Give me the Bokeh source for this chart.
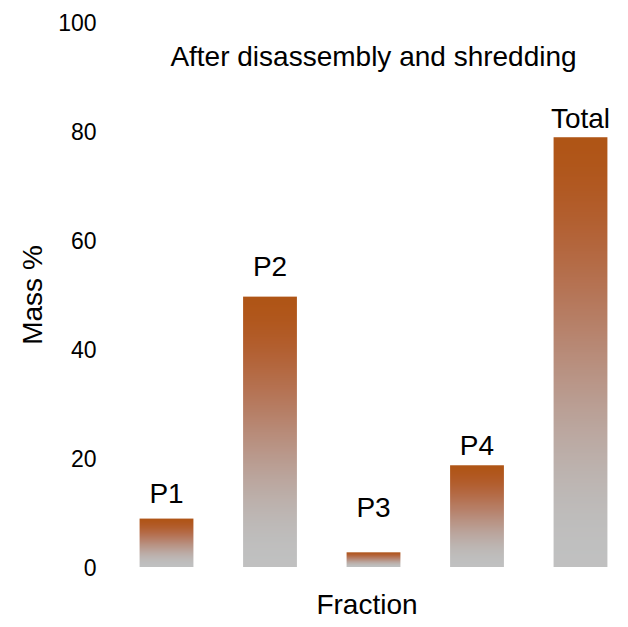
import numpy as np
from bokeh.plotting import figure
from bokeh.models import Range1d, FixedTicker, Label, ColumnDataSource
from bokeh.embed import file_html
from bokeh.resources import INLINE
from bokeh.core.properties import value

# --- data -------------------------------------------------------------
fractions = ["P1", "P2", "P3", "P4", "Total"]
mass_pct = [8.9, 49.7, 2.7, 18.7, 79.0]
y_ticks = [0, 20, 40, 60, 80, 100]
chart_title = "After disassembly and shredding"

# height (in Mass %) at which each fraction name is written
name_heights = [13.6, 55.2, 11.0, 22.4, 82.5]

# --- styling ----------------------------------------------------------
FONT = "Liberation Sans"
TOP_RGB = np.array([175, 85, 22], dtype=float)
BASE_RGB = np.array([192, 192, 192], dtype=float)
BAR_W = 0.52


def bar_gradient(rows=400):
    """Vertical gradient: burnt orange at the top of a bar, grey at its foot."""
    s = np.linspace(1.0, 0.0, rows)                 # row 0 is the foot (s = 1)
    smooth = s * s * (3 - 2 * s)
    weights = [s, smooth, smooth ** 0.8]            # grey share per channel
    img = np.empty((rows, 2), dtype=np.uint32)
    view = img.view(dtype=np.uint8).reshape((rows, 2, 4))
    for ch in range(3):
        c = TOP_RGB[ch] + (BASE_RGB[ch] - TOP_RGB[ch]) * weights[ch]
        view[:, :, ch] = c.round().astype(np.uint8)[:, None]
    view[:, :, 3] = 255
    return img


xs = np.arange(1, len(fractions) + 1)

bars = ColumnDataSource(dict(
    image=[bar_gradient() for _ in fractions],
    x=list(xs - BAR_W / 2),
    y=[0.0] * len(fractions),
    dw=[BAR_W] * len(fractions),
    dh=mass_pct,
))

names = ColumnDataSource(dict(x=list(xs), y=name_heights, text=fractions))

p = figure(
    width=628, height=627,
    output_backend="svg", toolbar_location=None,
    x_range=Range1d(0.4106, 5.4638),
    y_range=Range1d(-1.93, 101.93),
    min_border_left=105, min_border_right=0,
    min_border_top=12, min_border_bottom=50,
)

p.image_rgba(image="image", x="x", y="y", dw="dw", dh="dh", source=bars)

p.text(x="x", y="y", text="text", source=names,
       text_font=value(FONT), text_font_size="28px", text_color="black",
       text_align="center", text_baseline="middle")

p.add_layout(Label(x=3, y=93.8, text=chart_title,
                   text_font=FONT, text_font_size="28px", text_color="black",
                   text_align="center", text_baseline="middle"))

p.outline_line_color = None
p.xgrid.grid_line_color = None
p.ygrid.grid_line_color = None
p.background_fill_color = "white"
p.border_fill_color = "white"

ya = p.yaxis[0]
ya.ticker = FixedTicker(ticks=y_ticks)
ya.axis_line_color = None
ya.major_tick_line_color = None
ya.minor_tick_line_color = None
ya.major_tick_out = 0
ya.major_label_standoff = 9
ya.major_label_text_font = FONT
ya.major_label_text_font_size = "23px"
ya.major_label_text_color = "black"
ya.axis_label = "Mass %"
ya.axis_label_text_font = FONT
ya.axis_label_text_font_size = "28px"
ya.axis_label_text_font_style = "normal"
ya.axis_label_text_color = "black"
ya.axis_label_standoff = 7

xa = p.xaxis[0]
xa.ticker = FixedTicker(ticks=[])
xa.axis_line_color = None
xa.major_tick_line_color = None
xa.minor_tick_line_color = None
xa.major_tick_out = 0
xa.axis_label = "Fraction"
xa.axis_label_text_font = FONT
xa.axis_label_text_font_size = "28px"
xa.axis_label_text_font_style = "normal"
xa.axis_label_text_color = "black"
xa.axis_label_standoff = 11

open("out.html", "w").write(file_html(p, INLINE))
